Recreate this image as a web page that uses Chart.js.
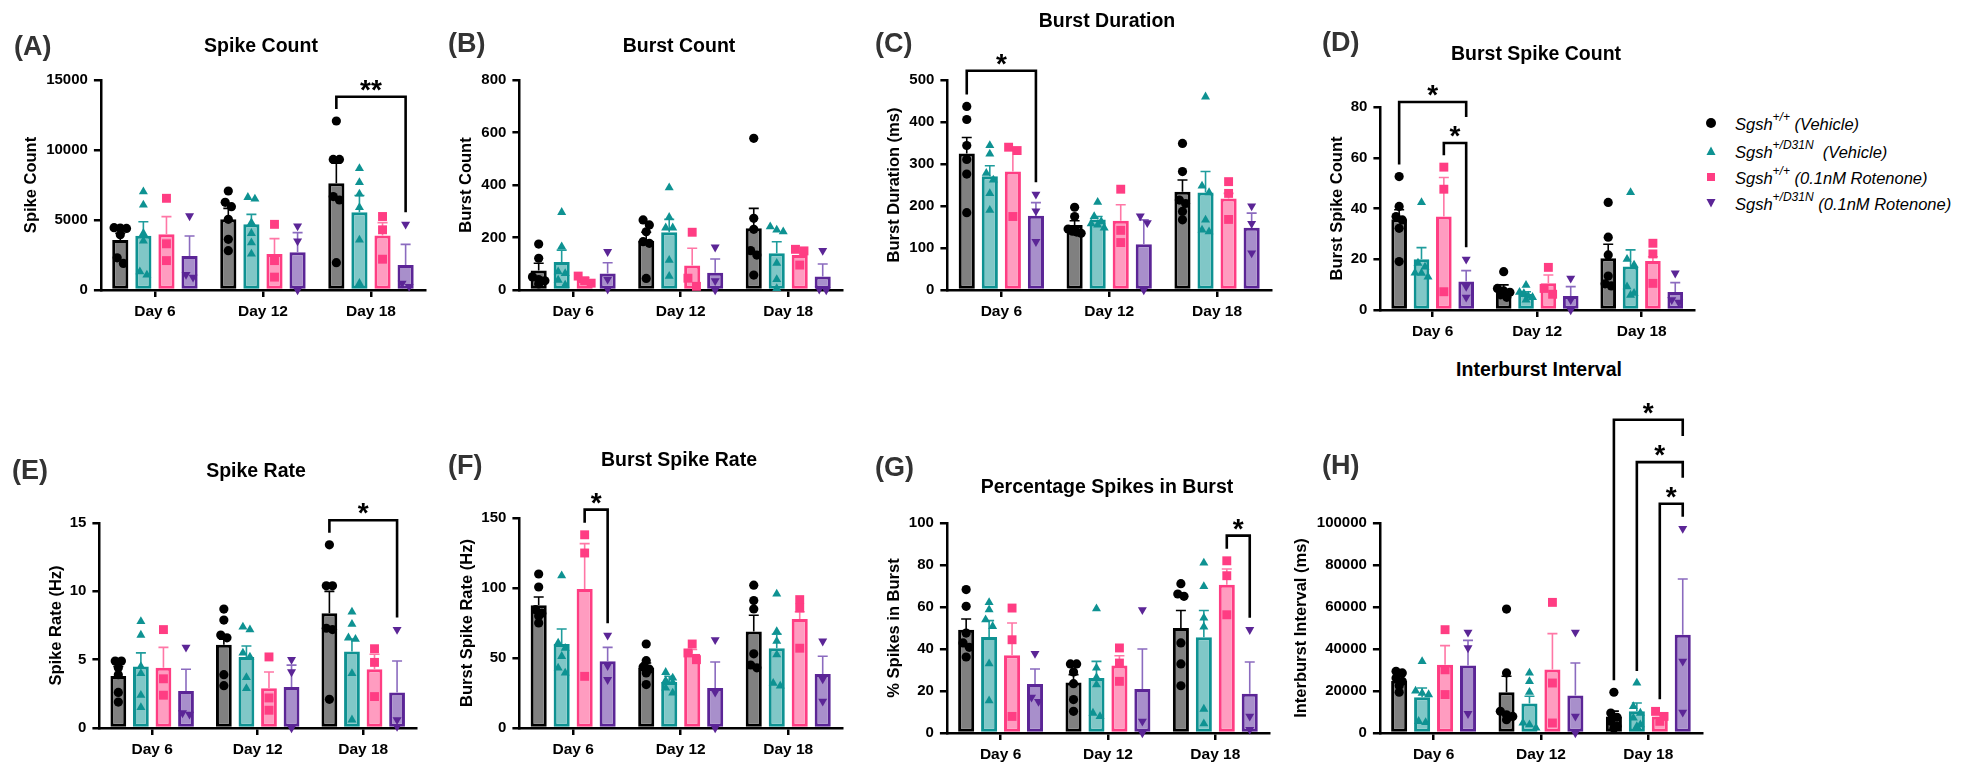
<!DOCTYPE html>
<html>
<head>
<meta charset="utf-8">
<script src="https://cdn.jsdelivr.net/npm/chart.js@4.4.1/dist/chart.umd.min.js"></script>
<style>
  body { margin: 0; width: 1972px; height: 766px; background: #fff; position: relative; overflow: hidden;
         font-family: 'Liberation Sans', Arial, sans-serif; }
  canvas { position: absolute; }
  .tag { position: absolute; font-weight: bold; font-size: 27px; color: #333; line-height: 1; transform: translateY(-50%); }
  .head { position: absolute; font-weight: bold; font-size: 19.5px; color: #000; line-height: 1; white-space: nowrap;
          transform: translate(-50%, -50%); }
  .row { position: absolute; left: 1706px; height: 20px; transform: translateY(-50%); white-space: nowrap;
         display: flex; align-items: center; font-size: 16.5px; font-style: italic; color: #000; }
  .row sup { font-size: 12px; position: relative; top: -2px; }
  .mk { display: inline-block; width: 10px; height: 10px; margin-right: 19px; }
  .circ { background: #000; border-radius: 50%; }
  .tri { background: #0e9292; clip-path: polygon(50% 5%, 95% 90%, 5% 90%); }
  .sq { background: #ff3d83; clip-path: inset(1px); }
  .dtri { background: #5b2596; clip-path: polygon(5% 10%, 95% 10%, 50% 95%); }
</style>
</head>
<body>
<div class="row" style="top:123px"><span class="mk circ"></span><span>Sgsh<sup>+/+</sup> (Vehicle)</span></div>
<div class="row" style="top:151px"><span class="mk tri"></span><span>Sgsh<sup>+/D31N</sup>&nbsp; (Vehicle)</span></div>
<div class="row" style="top:177px"><span class="mk sq"></span><span>Sgsh<sup>+/+</sup> (0.1nM Rotenone)</span></div>
<div class="row" style="top:203px"><span class="mk dtri"></span><span>Sgsh<sup>+/D31N</sup> (0.1nM Rotenone)</span></div>
<script>
const days = ['Day 6', 'Day 12', 'Day 18'];
const groupNames = ['Sgsh+/+ (Vehicle)', 'Sgsh+/D31N (Vehicle)', 'Sgsh+/+ (0.1nM Rotenone)', 'Sgsh+/D31N (0.1nM Rotenone)'];

// rows = group, columns = day; points are per-well values
// sig entries: [day, fromGroup, toGroup, bracket level, label]

// (A) Spike Count
const spikeCountMean = [[3570, 5050, 7620], [3880, 4690, 5550], [3980, 2570, 3900], [2430, 2690, 1790]];
const spikeCountSem = [[480, 780, 1430], [1000, 710, 1200], [1260, 1100, 910], [1430, 1410, 1470]];
const spikeCountPts = [
  [[4450, 4420, 4400, 3950, 2300, 1900], [7070, 6260, 5950, 5050, 3620, 2810], [12070, 9330, 9330, 6670, 6430, 1950]],
  [[7020, 6070, 4050, 3500, 1310, 1070], [6620, 6500, 4810, 4050, 3380, 2570], [8690, 7690, 6860, 5900, 3570, 480]],
  [[6550, 3300, 2100], [4690, 2100, 920], [5250, 4300, 2200]],
  [[5290, 1100, 900], [4570, 3500, 0], [4690, 480, 240]]
];
const spikeCountSig = [[2, 0, 3, 13800, '**']];

// (B) Burst Count
const burstCountMean = [[74, 188, 235], [107, 220, 140], [38, 93, 133], [63, 66, 51]];
const burstCountSem = [[28, 32, 76], [45, 49, 44], [9, 66, 12], [41, 52, 48]];
const burstCountPts = [
  [[175, 121, 50, 40, 35, 23], [267, 248, 222, 184, 178, 44], [578, 273, 231, 150, 133, 57]],
  [[296, 165, 70, 63, 38, 19], [390, 277, 237, 237, 114, 53], [241, 229, 222, 102, 40, 6]],
  [[53, 35, 26], [220, 45, 14], [155, 149, 95]],
  [[146, 41, 3], [163, 35, 0], [150, 3, 0]]
];
const burstCountSig = [];

// (C) Burst Duration
const burstDurMean = [[325, 155, 234], [271, 168, 232], [282, 165, 218], [177, 109, 148]];
const burstDurSem = [[38, 10, 28], [25, 7, 50], [54, 38, 12], [31, 58, 35]];
const burstDurPts = [
  [[437, 406, 344, 311, 276, 184], [197, 175, 145, 140, 138, 135], [349, 282, 214, 206, 187, 167]],
  [[344, 324, 278, 262, 230, 190], [209, 175, 163, 158, 155, 148], [460, 248, 232, 167, 143, 139]],
  [[340, 332, 175], [240, 142, 113], [258, 230, 168]],
  [[228, 188, 115], [176, 160, 0], [200, 158, 88]]
];
const burstDurSig = [[0, 0, 3, 522, '*']];

// (D) Burst Spike Count
const burstSpikeMean = [[35.8, 8.2, 20.4], [20.0, 6.3, 17.1], [36.8, 10.5, 19.3], [11.2, 5.5, 7.1]];
const burstSpikeSem = [[3.7, 1.7, 5.5], [4.6, 0.9, 6.6], [15.4, 3.3, 1.7], [4.3, 3.7, 3.7]];
const burstSpikePts = [
  [[52.6, 40.8, 36.8, 35.5, 32.2, 19.1], [15.1, 8.5, 7.5, 7, 6, 5], [42.4, 28.7, 21.7, 13.4, 10.3, 9.5]],
  [[42.4, 18.5, 17, 14.6, 14.5, 13], [9.8, 7, 6.5, 5.5, 5, 4], [46.3, 20.0, 17.8, 9.2, 6.6, 5.9]],
  [[56.3, 47.6, 7.2], [16.8, 8.5, 6.2], [26.3, 22.1, 10.5]],
  [[20.0, 9.2, 5.0], [12.5, 4, 0], [14.5, 4, 3]]
];
const burstSpikeSig = [[0, 2, 3, 65.8, '*'], [0, 0, 3, 82, '*']];

// (E) Spike Rate
const spikeRateMean = [[3.8, 6.1, 8.4], [4.5, 5.2, 5.6], [4.4, 2.9, 4.3], [2.7, 3.0, 2.6]];
const spikeRateSem = [[0.7, 0.4, 1.6], [1.0, 0.8, 0.9], [1.5, 1.2, 1.1], [1.6, 1.6, 2.3]];
const spikeRatePts = [
  [[4.9, 4.9, 4.4, 3.9, 2.6, 1.9], [8.7, 7.9, 6.8, 6.6, 3.9, 3.1], [13.4, 10.4, 10.4, 7.3, 7.2, 2.1]],
  [[7.8, 6.8, 4.5, 4.0, 2.4, 1.5], [7.4, 7.2, 5.5, 5.2, 3.7, 2.9], [8.5, 7.6, 6.6, 6.5, 4.0, 0.6]],
  [[7.2, 3.6, 2.4], [5.2, 2.2, 1.3], [5.8, 4.8, 2.3]],
  [[5.9, 1.1, 1.0], [5.0, 4.1, 0], [7.2, 0.6, 0.1]]
];
const spikeRateSig = [[2, 0, 3, 15.2, '*']];

// (F) Burst Spike Rate
const burstRateMean = [[87.6, 42.9, 69], [60, 32.9, 57], [99.3, 53.1, 77.9], [47.6, 28.6, 38.6]];
const burstRateSem = [[6.0, 3.5, 11.5], [10.7, 4.1, 10], [32.4, 3, 5.1], [10, 18.5, 12.6]];
const burstRatePts = [
  [[110, 100.7, 84.5, 82, 80, 75], [60, 48.1, 43.6, 42, 39.3, 31], [102, 91, 85, 53, 45, 43]],
  [[108.8, 60.7, 57, 51.2, 42.9, 39.3], [39.8, 35.7, 33.8, 32.6, 28.6, 25], [95.7, 69, 62, 52.4, 32, 30]],
  [[138, 125, 36.9], [60, 53.6, 48.8], [91.7, 85.7, 57]],
  [[66.2, 44.5, 34.5], [63, 25.5, 0], [62, 35, 19]]
];
const burstRateSig = [[0, 2, 3, 156, '*']];

// (G) Percentage Spikes in Burst
const pctBurstMean = [[49.2, 24.1, 50], [45.7, 26.2, 45.6], [37, 32.2, 70.6], [23.3, 21, 18.7]];
const pctBurstSem = [[5.1, 3.7, 8.3], [7.8, 7.9, 12.7], [15.4, 4.6, 7.5], [7.2, 19, 15.1]];
const pctBurstPts = [
  [[68.3, 60.3, 47.6, 42.9, 40.8, 36.2], [32.9, 32.9, 29, 23.5, 15.9, 10.3], [71.1, 66.2, 65.1, 42.9, 32.9, 22.5]],
  [[62.2, 58.7, 54, 50.8, 33, 15.4], [59.2, 31, 26.5, 23, 9.5, 7.9], [81, 69.8, 54.8, 50.5, 11.4, 4.4]],
  [[59.5, 44.4, 7.9], [40.5, 33.3, 24.6], [82, 74.9, 56.3]],
  [[37.8, 17, 15], [58.7, 5.6, 0], [49.2, 7.9, 1.6]]
];
const pctBurstSig = [[2, 2, 3, 94, '*']];

// (H) Interburst Interval
const ibiMean = [[24900, 19400, 7900], [17000, 14000, 10300], [32500, 30200, 7900], [32100, 17900, 46800]];
const ibiSem = [[4000, 7600, 2500], [4400, 3500, 4000], [9100, 17100, 1000], [12000, 15400, 26500]];
const ibiPts = [
  [[29400, 28600, 26200, 24600, 22500, 19400], [59000, 28600, 10300, 8700, 7900, 6300], [19400, 9500, 7500, 5560, 3170, 2270]],
  [[34100, 20000, 19000, 18300, 5560, 5000], [28600, 24600, 19400, 4760, 3970, 2380], [23800, 12700, 9500, 7140, 3970, 3170]],
  [[49200, 30100, 18300], [62200, 23800, 4760], [10300, 7900, 5560]],
  [[47900, 40500, 9200], [47900, 7900, 0], [97300, 34100, 9840]]
];
const ibiSig = [[2, 2, 3, 109200, '*'], [2, 1, 3, 129000, '*'], [2, 0, 3, 149200, '*']];

// group styling
const fills = ['#808080', '#80c7c7', '#ff9cc0', '#a88fcb'];
const edges = ['#000000', '#0e9292', '#ff3d83', '#5b2596'];
const whiskers = ['#000000', '#1f9c9c', '#ff77a6', '#8b6bbf'];
const markers = [
  { pointStyle: 'circle', radius: 4.6, rotation: 0, borderWidth: 0 },
  { pointStyle: 'triangle', radius: 5.2, rotation: 0, borderWidth: 0 },
  { pointStyle: 'rect', radius: 6.3, rotation: 0, borderWidth: 0 },
  { pointStyle: 'triangle', radius: 5.2, rotation: 180, borderWidth: 0 }
];

const panels = [
  { tag: '(A)', head: 'Spike Count', yTitle: 'Spike Count', max: 15000, step: 5000,
    mean: spikeCountMean, sem: spikeCountSem, pts: spikeCountPts, sig: spikeCountSig,
    box: { left: 101, top: 80, bottom: 290, cat: 108, yTitleX: 32, headX: 261, headY: 46, tagX: 14, tagY: 46 } },
  { tag: '(B)', head: 'Burst Count', yTitle: 'Burst Count', max: 800, step: 200,
    mean: burstCountMean, sem: burstCountSem, pts: burstCountPts, sig: burstCountSig,
    box: { left: 519.5, top: 80, bottom: 290, cat: 107.5, yTitleX: 467, headX: 679, headY: 46, tagX: 448, tagY: 43 } },
  { tag: '(C)', head: 'Burst Duration', yTitle: 'Burst Duration (ms)', max: 500, step: 100,
    mean: burstDurMean, sem: burstDurSem, pts: burstDurPts, sig: burstDurSig,
    box: { left: 947.5, top: 80, bottom: 290, cat: 108, yTitleX: 895, headX: 1107, headY: 21, tagX: 875, tagY: 43 } },
  { tag: '(D)', head: 'Burst Spike Count', yTitle: 'Burst Spike Count', max: 80, step: 20,
    mean: burstSpikeMean, sem: burstSpikeSem, pts: burstSpikePts, sig: burstSpikeSig,
    box: { left: 1380.5, top: 107, bottom: 310, cat: 104.5, yTitleX: 1338, headX: 1536, headY: 54, tagX: 1322, tagY: 42 } },
  { tag: '(E)', head: 'Spike Rate', yTitle: 'Spike Rate (Hz)', max: 15, step: 5,
    mean: spikeRateMean, sem: spikeRateSem, pts: spikeRatePts, sig: spikeRateSig,
    box: { left: 99.5, top: 523, bottom: 728, cat: 105.5, yTitleX: 57, headX: 256, headY: 471, tagX: 12, tagY: 470 } },
  { tag: '(F)', head: 'Burst Spike Rate', yTitle: 'Burst Spike Rate (Hz)', max: 150, step: 50,
    mean: burstRateMean, sem: burstRateSem, pts: burstRatePts, sig: burstRateSig,
    box: { left: 519.5, top: 518, bottom: 728, cat: 107.5, yTitleX: 468, headX: 679, headY: 460, tagX: 448, tagY: 465 } },
  { tag: '(G)', head: 'Percentage Spikes in Burst', yTitle: '% Spikes in Burst', max: 100, step: 20,
    mean: pctBurstMean, sem: pctBurstSem, pts: pctBurstPts, sig: pctBurstSig,
    box: { left: 947, top: 523, bottom: 733, cat: 107.5, yTitleX: 895, headX: 1107, headY: 487, tagX: 875, tagY: 467 } },
  { tag: '(H)', head: 'Interburst Interval', yTitle: 'Interburst Interval (ms)', max: 100000, step: 20000,
    mean: ibiMean, sem: ibiSem, pts: ibiPts, sig: ibiSig,
    box: { left: 1380, top: 523, bottom: 733, cat: 107.5, yTitleX: 1302, headX: 1539, headY: 370, tagX: 1322, tagY: 465 } }
];

Chart.defaults.font.family = "'Liberation Sans', Arial, sans-serif";
Chart.defaults.font.weight = 'bold';
Chart.defaults.color = '#000';

const PAD_TOP = 130;
const X_AXIS_H = 40;

// spread markers sharing a height into a centred row, kept within the bar width
function spread(ys, r) {
  const order = ys.map((v, i) => i).sort((a, b) => ys[a] - ys[b]);
  const dx = new Array(ys.length).fill(0);
  let row = [];
  const flush = () => {
    const gap = row.length > 1 ? Math.min(r * 1.35, 13 / (row.length - 1)) : 0;
    row.forEach((idx, k) => { dx[idx] = (k - (row.length - 1) / 2) * gap; });
    row = [];
  };
  order.forEach(i => {
    if (row.length && ys[i] - ys[row[0]] > r * 1.3) flush();
    row.push(i);
  });
  flush();
  return dx;
}

const overlay = {
  id: 'overlay',
  afterDatasetsDraw(chart) {
    const p = chart.options.plugins.overlay;
    const ctx = chart.ctx, ys = chart.scales.y;
    ctx.save();
    ctx.lineWidth = 1.6;
    p.mean.forEach((row, g) => {
      const meta = chart.getDatasetMeta(g);
      row.forEach((m, d) => {
        const bar = meta.data[d];
        const top = ys.getPixelForValue(m + p.sem[g][d]);
        ctx.strokeStyle = whiskers[g];
        ctx.beginPath();
        ctx.moveTo(bar.x, bar.y);
        ctx.lineTo(bar.x, top);
        ctx.moveTo(bar.x - 5, top);
        ctx.lineTo(bar.x + 5, top);
        ctx.stroke();
      });
    });
    ctx.restore();
  },
  afterDraw(chart) {
    const p = chart.options.plugins.overlay;
    const ctx = chart.ctx, ys = chart.scales.y;
    ctx.save();
    // individual wells
    p.pts.forEach((byDay, g) => {
      const meta = chart.getDatasetMeta(g);
      ctx.fillStyle = edges[g];
      byDay.forEach((vals, d) => {
        const bar = meta.data[d];
        const py = vals.map(v => ys.getPixelForValue(v));
        const dx = spread(py, markers[g].radius);
        py.forEach((y, k) => Chart.helpers.drawPoint(ctx, markers[g], bar.x + dx[k], y));
      });
    });
    // significance brackets
    const covered = {};
    ctx.strokeStyle = '#000';
    ctx.lineWidth = 2.6;
    ctx.fillStyle = '#000';
    ctx.font = "bold 28px 'Liberation Sans', Arial, sans-serif";
    ctx.textAlign = 'center';
    ctx.textBaseline = 'alphabetic';
    p.sig.forEach(([d, g0, g1, level, label]) => {
      const x0 = chart.getDatasetMeta(g0).data[d].x;
      const x1 = chart.getDatasetMeta(g1).data[d].x;
      const yb = ys.getPixelForValue(level);
      const legEnd = g => {
        const key = d + ':' + g;
        if (covered[key] !== undefined) return covered[key] - 26;
        const hi = Math.max(...p.pts[g][d], p.mean[g][d] + p.sem[g][d]);
        return ys.getPixelForValue(hi) - 12;
      };
      const ya = legEnd(g0), yc = legEnd(g1);
      ctx.beginPath();
      ctx.moveTo(x0, ya);
      ctx.lineTo(x0, yb);
      ctx.lineTo(x1, yb);
      ctx.lineTo(x1, yc);
      ctx.stroke();
      ctx.fillText(label, (x0 + x1) / 2, yb + 2);
      for (let g = g0; g <= g1; g++) {
        const key = d + ':' + g;
        covered[key] = covered[key] === undefined ? yb : Math.min(covered[key], yb);
      }
    });
    ctx.restore();
  }
};

panels.forEach(panel => {
  const b = panel.box;
  const canvasLeft = b.yTitleX - 9.9;
  const right = b.left + 3 * b.cat;
  const yWidth = b.left - canvasLeft;

  const canvas = document.createElement('canvas');
  canvas.width = Math.round(right + 12 - canvasLeft);
  canvas.height = Math.round(PAD_TOP + (b.bottom - b.top) + X_AXIS_H);
  canvas.style.left = canvasLeft + 'px';
  canvas.style.top = (b.top - PAD_TOP) + 'px';
  document.body.appendChild(canvas);

  const tag = document.createElement('div');
  tag.className = 'tag';
  tag.textContent = panel.tag;
  tag.style.left = b.tagX + 'px';
  tag.style.top = b.tagY + 'px';
  document.body.appendChild(tag);

  const head = document.createElement('div');
  head.className = 'head';
  head.textContent = panel.head;
  head.style.left = b.headX + 'px';
  head.style.top = b.headY + 'px';
  document.body.appendChild(head);

  new Chart(canvas, {
    type: 'bar',
    data: {
      labels: days,
      datasets: panel.mean.map((row, g) => ({
        label: groupNames[g],
        data: row,
        backgroundColor: fills[g],
        borderColor: edges[g],
        borderWidth: 3,
        borderSkipped: false,
        barPercentage: 0.7,
        categoryPercentage: 0.855
      }))
    },
    options: {
      responsive: false,
      animation: false,
      devicePixelRatio: 1,
      layout: { padding: { top: PAD_TOP, right: 12, bottom: 0, left: 0 } },
      plugins: {
        legend: { display: false },
        tooltip: { enabled: false },
        overlay: { mean: panel.mean, sem: panel.sem, pts: panel.pts, sig: panel.sig }
      },
      scales: {
        x: {
          grid: { drawOnChartArea: false, offset: false, tickLength: 7, color: '#000', lineWidth: 2.5 },
          border: { color: '#000', width: 2.5, z: 1 },
          ticks: { font: { size: 15.5, weight: 'bold' }, color: '#000', padding: 5 },
          afterFit: s => { s.height = X_AXIS_H; }
        },
        y: {
          min: 0,
          max: panel.max,
          ticks: { stepSize: panel.step, callback: v => String(v), font: { size: 15, weight: 'bold' }, color: '#000', padding: 6 },
          grid: { drawOnChartArea: false, tickLength: 7, color: '#000', lineWidth: 2.5 },
          border: { color: '#000', width: 2.5, z: 1 },
          title: { display: true, text: panel.yTitle, font: { size: 16.5, weight: 'bold' }, color: '#000', padding: 0 },
          afterFit: s => { s.width = yWidth; }
        }
      }
    },
    plugins: [overlay]
  });
});
</script>
</body>
</html>
